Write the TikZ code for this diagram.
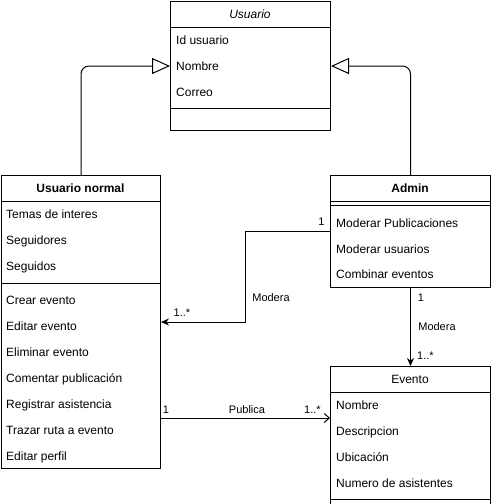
\documentclass[tikz,border=0pt]{standalone}
\usepackage{fontspec}
\setmainfont{Liberation Sans}
\usetikzlibrary{arrows.meta}

\tikzset{
  classbox/.style={draw, line width=1pt, anchor=north west, inner sep=0pt},
  attr/.style={anchor=west, inner sep=0pt, text height=8.6pt, text depth=0pt,
    font=\fontsize{12}{14}\selectfont},
  titulo/.style={inner sep=0pt, text height=8.6pt, text depth=0pt,
    font=\fontsize{12}{14}\selectfont},
  lbl/.style={inner sep=0pt, text height=7.9pt, text depth=0pt,
    font=\fontsize{11}{13}\selectfont},
  herencia/.style={line width=1pt, rounded corners=8pt,
    -{Triangle[open, length=18pt, width=16pt]}},
  asoc/.style={line width=1pt, -{Stealth[length=8pt, width=7pt]}},
  publica/.style={line width=1pt, -{Straight Barb[length=5pt, width=9pt]}},
}

\begin{document}
\begin{tikzpicture}[x=1pt, y=-1pt]
    \useasboundingbox (0,0) rectangle (491,504);

    % Clase Usuario
    \node[classbox, minimum width=160pt, minimum height=129pt] (usuario) at (170,1) {};
    \draw[line width=1pt] ([yshift=-26pt]usuario.north west) -- ([yshift=-26pt]usuario.north east);
    \draw[line width=1pt] ([yshift=-107pt]usuario.north west) -- ([yshift=-107pt]usuario.north east);
    \node[titulo, font=\fontsize{12}{14}\selectfont\itshape] (usuarioT) at (250,14) {Usuario};
    \node[attr] (uid) at (176,40) {Id usuario};
    \node[attr] (unom) at (176,66) {Nombre};
    \node[attr] (ucor) at (176,92) {Correo};

    % Clase Usuario normal
    \node[classbox, minimum width=159pt, minimum height=293pt] (normal) at (1,175) {};
    \draw[line width=1pt] ([yshift=-26pt]normal.north west) -- ([yshift=-26pt]normal.north east);
    \draw[line width=1pt] ([yshift=-108pt]normal.north west) -- ([yshift=-108pt]normal.north east);
    \node[titulo, font=\fontsize{12}{14}\selectfont\bfseries] (normalT) at (80.5,188) {Usuario normal};
    \node[attr] (ntem) at (6,214) {Temas de interes};
    \node[attr] (nseg) at (6,240) {Seguidores};
    \node[attr] (nsgd) at (6,266) {Seguidos};
    \node[attr] (ncre) at (6,300) {Crear evento};
    \node[attr] (nedi) at (6,326) {Editar evento};
    \node[attr] (neli) at (6,352) {Eliminar evento};
    \node[attr] (ncom) at (6,378) {Comentar publicación};
    \node[attr] (nreg) at (6,404) {Registrar asistencia};
    \node[attr] (ntra) at (6,430) {Trazar ruta a evento};
    \node[attr] (nper) at (6,456) {Editar perfil};

    % Clase Admin
    \node[classbox, minimum width=160pt, minimum height=112pt] (admin) at (330,175) {};
    \draw[line width=1pt] ([yshift=-26pt]admin.north west) -- ([yshift=-26pt]admin.north east);
    \draw[line width=1pt] ([yshift=-30pt]admin.north west) -- ([yshift=-30pt]admin.north east);
    \node[titulo, font=\fontsize{12}{14}\selectfont\bfseries] (adminT) at (410,188) {Admin};
    \node[attr] (amod) at (336,223) {Moderar Publicaciones};
    \node[attr] (amou) at (336,249) {Moderar usuarios};
    \node[attr] (acom) at (336,274) {Combinar eventos};

    % Clase Evento
    \node[classbox, minimum width=160pt, minimum height=140pt] (evento) at (330,366) {};
    \draw[line width=1pt] ([yshift=-26pt]evento.north west) -- ([yshift=-26pt]evento.north east);
    \draw[line width=1pt] ([yshift=-133pt]evento.north west) -- ([yshift=-133pt]evento.north east);
    \node[titulo] (eventoT) at (410,379) {Evento};
    \node[attr] (enom) at (336,405) {Nombre};
    \node[attr] (edes) at (336,431) {Descripcion};
    \node[attr] (eubi) at (336,457) {Ubicación};
    \node[attr] (enum) at (336,483) {Numero de asistentes};

    % Herencia
    \draw[herencia] (normal.north) |- (usuario.west |- unom);
    \draw[herencia] (admin.north) |- (usuario.east |- unom);

    % Modera (usuarios)
    \draw[asoc] ([yshift=-8pt]amod.west -| admin.west) -- ++(-85,0)
        |- ([yshift=4pt]nedi.west -| normal.east);
    \node[lbl] (m1a) at (321.5,222) {1};
    \node[lbl] (m1b) at (271,297.5) {Modera};
    \node[lbl] (m1c) at (182,313) {1..*};

    % Modera (eventos)
    \draw[asoc] (admin.south) -- (evento.north);
    \node[lbl] (m2a) at (421,297.5) {1};
    \node[lbl] (m2b) at (437,327) {Modera};
    \node[lbl] (m2c) at (425.5,355.5) {1..*};

    % Publica
    \draw[publica] ([yshift=-14pt]nreg.west -| normal.east) -- ([yshift=-14pt]nreg.west -| evento.west);
    \node[lbl] (p1a) at (166,410) {1};
    \node[lbl] (p1b) at (247,410) {Publica};
    \node[lbl] (p1c) at (312.5,410) {1..*};

\end{tikzpicture}
\end{document}
